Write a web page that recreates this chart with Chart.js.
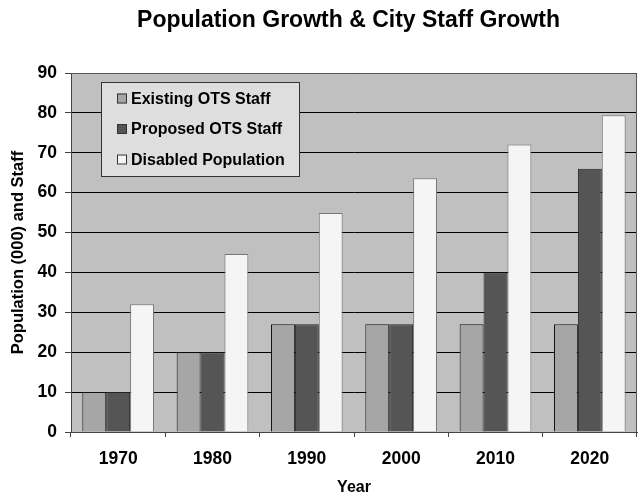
<!DOCTYPE html>
<html>
<head>
<meta charset="utf-8">
<script src="https://cdn.jsdelivr.net/npm/chart.js@4.4.1/dist/chart.umd.min.js"></script>
<style>
  html, body { margin: 0; padding: 0; background: #fff; }
  #wrap { width: 638px; height: 497px; }
</style>
</head>
<body>
<div id="wrap"><canvas id="chart"></canvas></div>
<script>
const years = ['1970', '1980', '1990', '2000', '2010', '2020'];
const existingStaff = [10, 20, 27, 27, 27, 27];
const proposedStaff = [10, 20, 27, 27, 40, 66];
const disabledPopulation = [32, 44.6, 54.9, 63.6, 72.1, 79.4];
const yTicks = [0, 10, 20, 30, 40, 50, 60, 70, 80, 90];

const chartTitle = 'Population Growth & City Staff Growth';
const FONT = '"Liberation Sans", Arial, sans-serif';

// plot background, border, title and in-plot legend
const decor = {
  id: 'decor',
  beforeDraw(chart) {
    const { ctx, chartArea: a } = chart;
    ctx.save();
    ctx.fillStyle = '#c0c0c0';
    ctx.fillRect(a.left, a.top, a.right - a.left, a.bottom - a.top);
    ctx.restore();
  },
  afterDatasetsDraw(chart) {
    const { ctx, chartArea: a } = chart;
    ctx.save();
    ctx.strokeStyle = '#555';
    ctx.lineWidth = 1;
    ctx.beginPath();
    ctx.moveTo(a.left, a.top + 0.5);
    ctx.lineTo(a.right - 0.5, a.top + 0.5);
    ctx.lineTo(a.right - 0.5, a.bottom);
    ctx.stroke();

    // title
    ctx.fillStyle = '#000';
    ctx.font = 'bold 23px ' + FONT;
    ctx.textAlign = 'center';
    ctx.textBaseline = 'middle';
    ctx.fillText(chartTitle, 348.5, 21);

    // legend
    const bx = 101, by = 82, bw = 198, bh = 94;
    ctx.fillStyle = '#dedede';
    ctx.fillRect(bx, by, bw, bh);
    ctx.strokeStyle = '#333';
    ctx.strokeRect(bx + 0.5, by + 0.5, bw, bh);
    ctx.font = 'bold 16px ' + FONT;
    ctx.textAlign = 'left';
    chart.data.datasets.forEach((ds, i) => {
      const cy = 98.5 + i * 30.5;
      ctx.fillStyle = ds.backgroundColor;
      ctx.fillRect(117, cy - 5, 10, 10);
      ctx.strokeStyle = '#333';
      ctx.strokeRect(117.5, cy - 4.5, 9, 9);
      ctx.fillStyle = '#000';
      ctx.fillText(ds.label, 131, cy + 1);
    });
    ctx.restore();
  }
};

new Chart(document.getElementById('chart'), {
  type: 'bar',
  data: {
    labels: years,
    datasets: [
      { label: 'Existing OTS Staff', data: existingStaff, backgroundColor: '#a6a6a6', borderColor: '#111', borderWidth: 1 },
      { label: 'Proposed OTS Staff', data: proposedStaff, backgroundColor: '#555555', borderColor: '#222', borderWidth: 1 },
      { label: 'Disabled Population', data: disabledPopulation, backgroundColor: '#f5f5f5', borderColor: '#777', borderWidth: 1 }
    ]
  },
  options: {
    responsive: true,
    maintainAspectRatio: false,
    animation: false,
    layout: { padding: { top: 73, right: 1, left: 0, bottom: 0 } },
    plugins: {
      legend: { display: false },
      title: { display: false },
      tooltip: { enabled: false }
    },
    datasets: { bar: { categoryPercentage: 0.76, barPercentage: 1 } },
    scales: {
      x: {
        grid: { offset: true, drawOnChartArea: false, drawTicks: true, tickLength: 5, color: '#444' },
        border: { color: '#444', width: 1 },
        ticks: { color: '#000', font: { family: FONT, weight: 'bold', size: 17.5 }, padding: 12 },
        title: { display: true, text: 'Year', color: '#000', font: { family: FONT, weight: 'bold', size: 16 }, padding: { top: 0, bottom: 0 } },
        afterFit(scale) { scale.height = 65; }
      },
      y: {
        min: 0,
        max: 90,
        afterBuildTicks(scale) { scale.ticks = yTicks.map(v => ({ value: v })); },
        grid: { color: '#000', tickLength: 6, tickColor: '#444' },
        border: { color: '#444', width: 1 },
        ticks: { color: '#000', font: { family: FONT, weight: 'bold', size: 17.5 }, padding: 8 },
        title: { display: true, text: 'Population (000) and Staff', color: '#000', font: { family: FONT, weight: 'bold', size: 16.5 }, padding: { top: 9, bottom: 0 } },
        afterFit(scale) { scale.width = 71; }
      }
    }
  },
  plugins: [decor]
});
</script>
</body>
</html>
